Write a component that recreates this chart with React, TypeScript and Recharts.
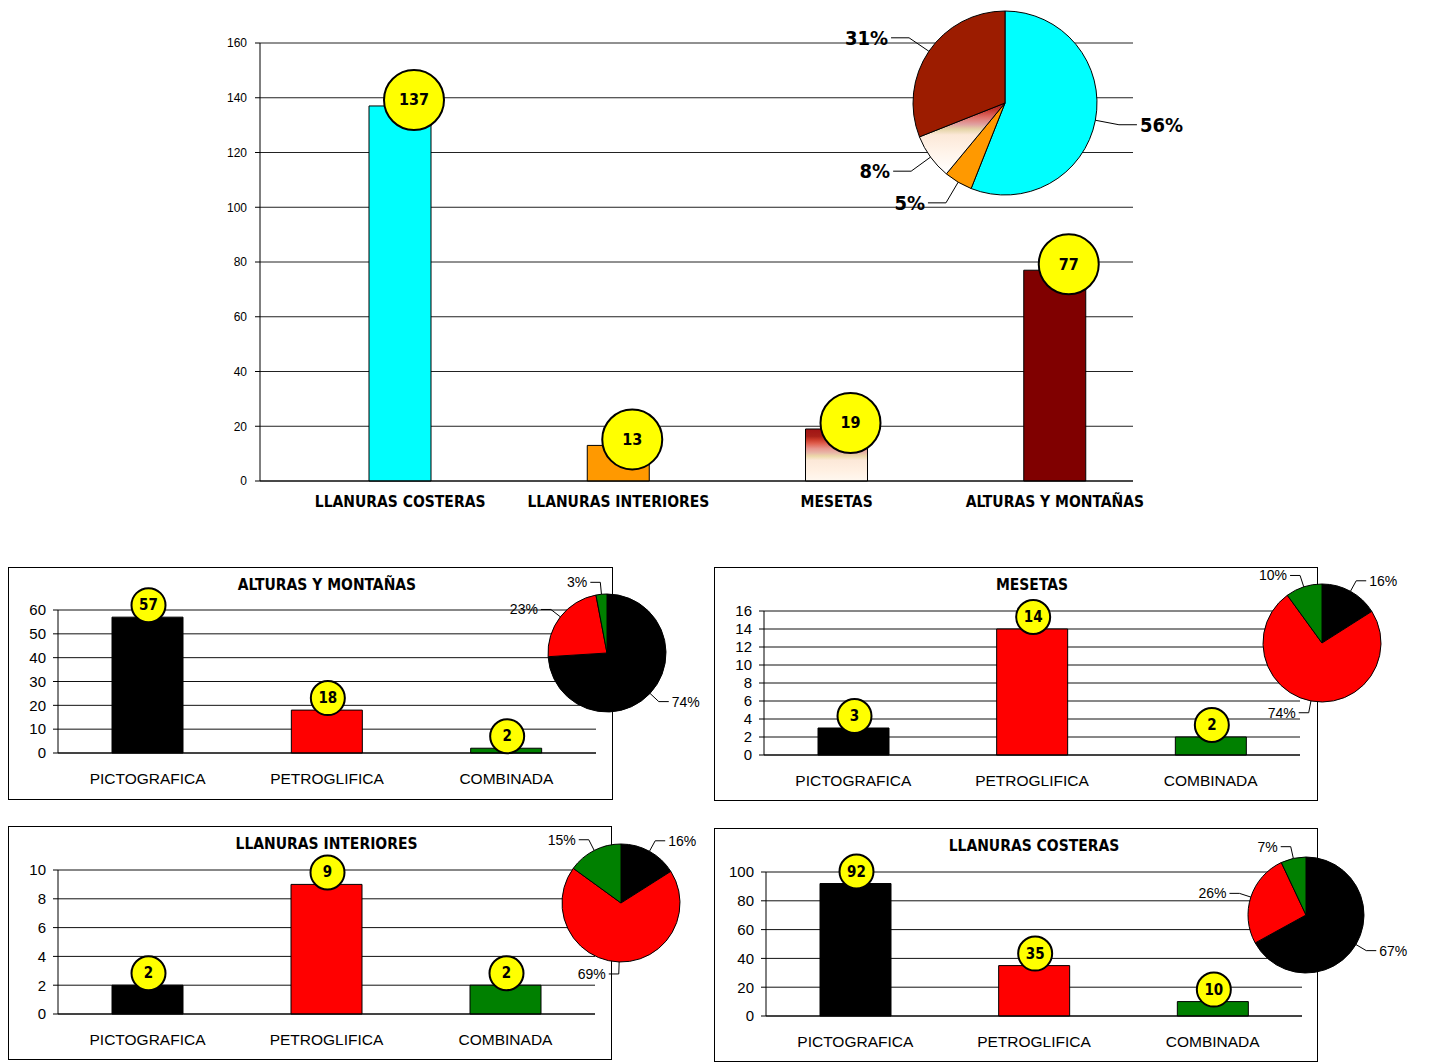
import React from 'react';
import {
  BarChart,
  Bar,
  XAxis,
  YAxis,
  CartesianGrid,
  Cell,
  LabelList,
  PieChart,
  Pie,
  Rectangle,
} from 'recharts';

// gráfico principal: manifestaciones por región
const regions = ['LLANURAS COSTERAS', 'LLANURAS INTERIORES', 'MESETAS', 'ALTURAS Y MONTAÑAS'];
const regionTotals = [137, 13, 19, 77];
const regionTicks = [0, 20, 40, 60, 80, 100, 120, 140, 160];
const regionPct = [56, 5, 8, 31];

// paneles: tipo de manifestación por región
const types = ['PICTOGRAFICA', 'PETROGLIFICA', 'COMBINADA'];
const alturasValues = [57, 18, 2];
const alturasPct = [74, 23, 3];
const alturasTicks = [0, 10, 20, 30, 40, 50, 60];
const mesetasValues = [3, 14, 2];
const mesetasPct = [16, 74, 10];
const mesetasTicks = [0, 2, 4, 6, 8, 10, 12, 14, 16];
const interioresValues = [2, 9, 2];
const interioresPct = [16, 69, 15];
const interioresTicks = [0, 2, 4, 6, 8, 10];
const costerasValues = [92, 35, 10];
const costerasPct = [67, 26, 7];
const costerasTicks = [0, 20, 40, 60, 80, 100];

const NARROW = "'Liberation Sans Narrow', 'Arial Narrow', 'DejaVu Sans Condensed', sans-serif";
const ARIAL = "'Liberation Sans', Arial, sans-serif";

const mainBarColors = ['#00FFFF', '#FF9900', 'url(#mesetasBar)', '#800000'];
const mainPieColors = ['#00FFFF', '#FF9900', 'url(#mesetasSlice)', '#9C1C00'];
const typeColors = ['#000000', '#FF0000', '#008000'];

const RAD = Math.PI / 180;
const noTick = () => <g />;

// etiqueta con línea guía para las tortas
const pieLabel =
  (size: number, weight: string, font: string, ext1: number, ext2: number) => (props: any) => {
    const { cx, cy, midAngle, outerRadius, value } = props;
    const cos = Math.cos(-midAngle * RAD);
    const sin = Math.sin(-midAngle * RAD);
    const sx = cx + outerRadius * cos;
    const sy = cy + outerRadius * sin;
    const mx = cx + (outerRadius + ext1) * cos;
    const my = cy + (outerRadius + ext1) * sin;
    const dir = cos >= 0 ? 1 : -1;
    const ex = mx + dir * ext2;
    return (
      <g>
        <polyline points={`${sx},${sy} ${mx},${my} ${ex},${my}`} stroke="#000" fill="none" strokeWidth={1} />
        <text
          x={ex + dir * 3}
          y={my}
          textAnchor={dir > 0 ? 'start' : 'end'}
          dominantBaseline="central"
          fontSize={size}
          fontWeight={weight}
          fontFamily={font}
          fill="#000"
        >
          {`${value}%`}
        </text>
      </g>
    );
  };

const Bubble = ({ cx, cy, r, value, size }: any) => (
  <g>
    <circle cx={cx} cy={cy} r={r} fill="#FFFF00" stroke="#000" strokeWidth={2} />
    <text
      x={cx}
      y={cy}
      textAnchor="middle"
      dominantBaseline="central"
      fontSize={size}
      fontWeight="bold"
      fontFamily={NARROW}
      fill="#000"
    >
      {value}
    </text>
  </g>
);

const MainChart = () => {
  const data = regions.map((name, i) => ({ name, value: regionTotals[i] }));
  const pieData = regions.map((name, i) => ({ name, value: regionPct[i] }));

  const MainTick = ({ x, y, payload }: any) => (
    <text x={x + 31} y={y} dy={18} textAnchor="middle" fontSize={15.5} fontWeight="bold" fontFamily={NARROW} fill="#000">
      {payload.value}
    </text>
  );

  return (
    <>
      <div style={{ position: 'absolute', left: 0, top: 0 }}>
        <BarChart width={1431} height={530} data={data} margin={{ top: 43, right: 298, left: 200, bottom: 19 }}>
          <defs>
            <linearGradient id="mesetasBar" x1="0" y1="0" x2="0" y2="1">
              <stop offset="0" stopColor="#A01414" />
              <stop offset="0.14" stopColor="#A82018" />
              <stop offset="0.2" stopColor="#C83828" />
              <stop offset="0.28" stopColor="#E06050" />
              <stop offset="0.38" stopColor="#E89890" />
              <stop offset="0.46" stopColor="#E8B8A8" />
              <stop offset="0.52" stopColor="#ECD8A8" />
              <stop offset="0.6" stopColor="#FCE8D8" />
              <stop offset="0.8" stopColor="#FFF0E2" />
              <stop offset="1" stopColor="#FFF8F0" />
            </linearGradient>
          </defs>
          <CartesianGrid vertical={false} stroke="#222" />
          <XAxis
            xAxisId="edges"
            type="number"
            domain={[0, regions.length]}
            ticks={regions.map((_, i) => i).concat(regions.length)}
            tick={noTick}
            tickSize={5}
            tickLine={{ stroke: '#000' }}
            axisLine={false}
            height={0}
          />
          <XAxis
            dataKey="name"
            interval={0}
            tick={<MainTick />}
            tickLine={false}
            axisLine={{ stroke: '#000' }}
            height={30}
          />
          <YAxis
            width={60}
            domain={[0, 160]}
            ticks={regionTicks}
            interval={0}
            tickSize={5}
            tickMargin={8}
            tick={{ fontSize: 12, fill: '#000', fontFamily: ARIAL }}
            axisLine={{ stroke: '#000' }}
            tickLine={{ stroke: '#000' }}
          />
          <Bar
            dataKey="value"
            barSize={62}
            stroke="#000"
            strokeWidth={1}
            isAnimationActive={false}
            shape={(p: any) => <Rectangle {...p} x={p.x + p.width / 2} />}
          >
            {data.map((d, i) => (
              <Cell key={d.name} fill={mainBarColors[i]} />
            ))}
            <LabelList
              dataKey="value"
              content={(p: any) => (
                <Bubble cx={p.x + p.width + 14} cy={p.y - 6} r={30} value={p.value} size={16} />
              )}
            />
          </Bar>
        </BarChart>
      </div>
      <div style={{ position: 'absolute', left: 800, top: 0 }}>
        <PieChart width={420} height={260} margin={{ top: 0, right: 0, bottom: 0, left: 0 }}>
          <defs>
            <linearGradient id="mesetasSlice" x1="0" y1="0" x2="0" y2="1">
              <stop offset="0" stopColor="#A01C1C" />
              <stop offset="0.1" stopColor="#C83830" />
              <stop offset="0.2" stopColor="#E07068" />
              <stop offset="0.3" stopColor="#E0A0A0" />
              <stop offset="0.37" stopColor="#E4D4A8" />
              <stop offset="0.45" stopColor="#FCE8D8" />
              <stop offset="0.7" stopColor="#FFF4EA" />
              <stop offset="1" stopColor="#FFFFFF" />
            </linearGradient>
          </defs>
          <Pie
            data={pieData}
            dataKey="value"
            cx={205}
            cy={103}
            outerRadius={92}
            startAngle={90}
            endAngle={-270}
            stroke="#000"
            strokeWidth={1}
            isAnimationActive={false}
            labelLine={false}
            label={pieLabel(20, 'bold', NARROW, 24, 18)}
          >
            {pieData.map((d, i) => (
              <Cell key={d.name} fill={mainPieColors[i]} />
            ))}
          </Pie>
        </PieChart>
      </div>
    </>
  );
};

type PanelProps = {
  title: string;
  values: number[];
  pct: number[];
  ticks: number[];
  box: { x: number; y: number; w: number; h: number };
  plot: { l: number; t: number; r: number; b: number };
  pie: { cx: number; cy: number; r: number };
};

const Panel = ({ title, values, pct, ticks, box, plot, pie }: PanelProps) => {
  const data = types.map((name, i) => ({ name, value: values[i] }));
  const pieData = types.map((name, i) => ({ name, value: pct[i] }));
  const xAxisHeight = 30;
  const top = ticks[ticks.length - 1];

  const TypeTick = ({ x, y, payload }: any) => (
    <text x={x} y={y} dy={23} textAnchor="middle" fontSize={15.5} fontFamily={ARIAL} fill="#000">
      {payload.value}
    </text>
  );

  return (
    <>
      <div
        style={{
          position: 'absolute',
          left: box.x,
          top: box.y,
          width: box.w,
          height: box.h,
          border: '1.5px solid #000',
          boxSizing: 'border-box',
        }}
      />
      <div
        style={{
          position: 'absolute',
          left: (plot.l + plot.r) / 2 - 200,
          top: box.y + 9,
          width: 400,
          textAlign: 'center',
          fontFamily: NARROW,
          fontWeight: 'bold',
          fontSize: 15.5,
          color: '#000',
        }}
      >
        {title}
      </div>
      <div style={{ position: 'absolute', left: box.x, top: box.y }}>
        <BarChart
          width={box.w}
          height={box.h}
          data={data}
          margin={{
            top: plot.t - box.y,
            right: box.x + box.w - plot.r,
            left: 0,
            bottom: box.y + box.h - plot.b - xAxisHeight,
          }}
        >
          <CartesianGrid vertical={false} stroke="#111" />
          <XAxis
            xAxisId="edges"
            type="number"
            domain={[0, types.length]}
            ticks={types.map((_, i) => i).concat(types.length)}
            tick={noTick}
            tickSize={5}
            tickLine={{ stroke: '#000' }}
            axisLine={false}
            height={0}
          />
          <XAxis
            dataKey="name"
            interval={0}
            tick={<TypeTick />}
            tickLine={false}
            axisLine={{ stroke: '#000' }}
            height={xAxisHeight}
          />
          <YAxis
            width={plot.l - box.x}
            domain={[0, top]}
            ticks={ticks}
            interval={0}
            tickSize={5}
            tickMargin={7}
            tick={{ fontSize: 15, fill: '#000', fontFamily: ARIAL }}
            axisLine={{ stroke: '#000' }}
            tickLine={{ stroke: '#000' }}
          />
          <Bar dataKey="value" barSize={71} stroke="#000" strokeWidth={1} isAnimationActive={false}>
            {data.map((d, i) => (
              <Cell key={d.name} fill={typeColors[i]} />
            ))}
            <LabelList
              dataKey="value"
              content={(p: any) => (
                <Bubble cx={p.x + p.width / 2 + 1} cy={p.y - 12} r={17} value={p.value} size={15} />
              )}
            />
          </Bar>
        </BarChart>
      </div>
      <div style={{ position: 'absolute', left: pie.cx - 110, top: pie.cy - 100 }}>
        <PieChart width={220} height={200} margin={{ top: 0, right: 0, bottom: 0, left: 0 }}>
          <Pie
            data={pieData}
            dataKey="value"
            cx={110}
            cy={100}
            outerRadius={pie.r}
            startAngle={90}
            endAngle={-270}
            stroke="#000"
            strokeWidth={1}
            isAnimationActive={false}
            labelLine={false}
            label={pieLabel(14, 'normal', ARIAL, 12, 10)}
          >
            {pieData.map((d, i) => (
              <Cell key={d.name} fill={typeColors[i]} />
            ))}
          </Pie>
        </PieChart>
      </div>
    </>
  );
};

export default function App() {
  return (
    <div
      style={{
        position: 'absolute',
        left: 0,
        top: 0,
        width: 1431,
        height: 1062,
        background: '#fff',
        overflow: 'hidden',
      }}
    >
      <MainChart />
      <Panel
        title="ALTURAS Y MONTAÑAS"
        values={alturasValues}
        pct={alturasPct}
        ticks={alturasTicks}
        box={{ x: 8, y: 567, w: 605, h: 233 }}
        plot={{ l: 58, t: 610, r: 596, b: 753 }}
        pie={{ cx: 607, cy: 653, r: 59 }}
      />
      <Panel
        title="MESETAS"
        values={mesetasValues}
        pct={mesetasPct}
        ticks={mesetasTicks}
        box={{ x: 714, y: 567, w: 604, h: 234 }}
        plot={{ l: 764, t: 611, r: 1300, b: 755 }}
        pie={{ cx: 1322, cy: 643, r: 59 }}
      />
      <Panel
        title="LLANURAS INTERIORES"
        values={interioresValues}
        pct={interioresPct}
        ticks={interioresTicks}
        box={{ x: 8, y: 826, w: 604, h: 234 }}
        plot={{ l: 58, t: 870, r: 595, b: 1014 }}
        pie={{ cx: 621, cy: 903, r: 59 }}
      />
      <Panel
        title="LLANURAS COSTERAS"
        values={costerasValues}
        pct={costerasPct}
        ticks={costerasTicks}
        box={{ x: 714, y: 828, w: 604, h: 234 }}
        plot={{ l: 766, t: 872, r: 1302, b: 1016 }}
        pie={{ cx: 1306, cy: 915, r: 58 }}
      />
    </div>
  );
}
